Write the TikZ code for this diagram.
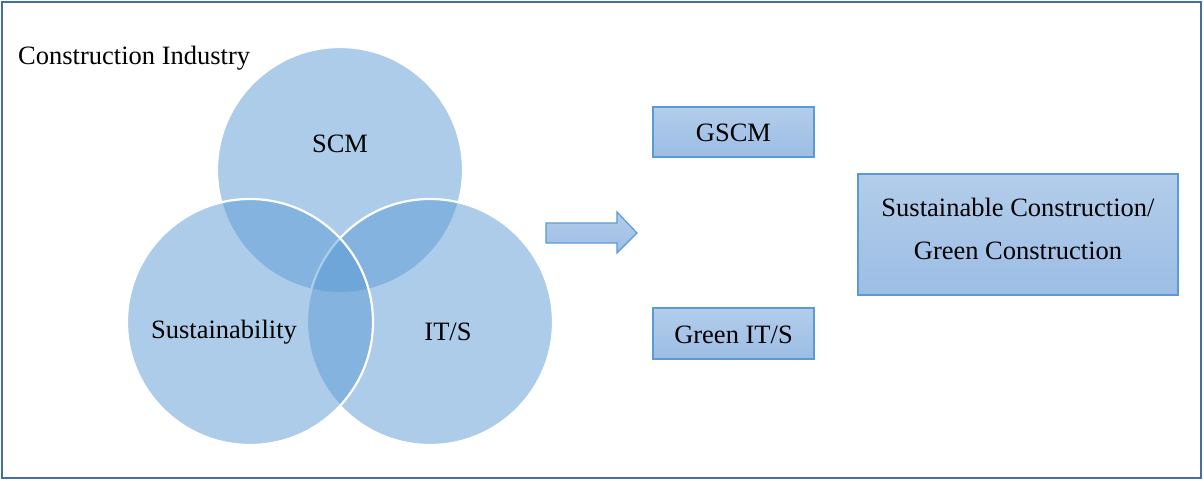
\documentclass[tikz,border=0pt]{standalone}
\usepackage{fontspec}
\setmainfont{Liberation Serif}
\definecolor{accent}{HTML}{5B9BD5}
\definecolor{frameblue}{HTML}{41719C}
\definecolor{boxtop}{HTML}{B3CDEA}
\definecolor{boxbottom}{HTML}{9CBDE5}
\begin{document}
\begin{tikzpicture}[x=1pt,y=-1pt,
  every node/.style={font=\fontsize{26.5}{31}\selectfont, inner sep=0pt},
  venn/.style={fill=accent, fill opacity=0.5, draw=white, line width=2.2pt},
  gradbox/.style={top color=boxtop, bottom color=boxbottom, draw=accent, line width=1.2pt},
  label/.style={text=black}
]
  % canvas and outer frame
  \useasboundingbox (0,0) rectangle (1204,480);
  \fill[white] (0,0) rectangle (1204,480);
  \draw[frameblue, line width=2.2pt] (2,2) rectangle (1201,478);

  \node[anchor=west, label] (industry) at (18,58) {Construction Industry};

  % three overlapping sets
  \path[venn] (340,170) circle[radius=123pt];
  \path[venn] (430,322) circle[radius=123pt];
  \path[venn] (250,322) circle[radius=123pt];

  \node[label] (scm) at (340,144) {SCM};
  \node[label] (sust) at (224,332) {Sustainability};
  \node[label] (its) at (448,332) {IT/S};

  % block arrow
  \path[gradbox] (546,223) -- (617,223) -- (617,212) -- (637,233)
    -- (617,253) -- (617,243) -- (546,243) -- cycle;

  % result boxes
  \path[gradbox] (653,107) rectangle (814,157);
  \node[label] (gscm) at (733.5,133) {GSCM};

  \path[gradbox] (653,308) rectangle (814,359);
  \node[label] (greenits) at (733.5,335) {Green IT/S};

  \path[gradbox] (858,174) rectangle (1178,295);
  \node[label] (sc1) at (1018,207) {Sustainable Construction/};
  \node[label] (sc2) at (1018,251) {Green Construction};
\end{tikzpicture}
\end{document}
